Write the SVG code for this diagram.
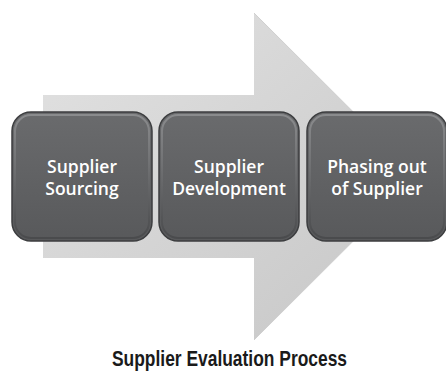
<svg xmlns="http://www.w3.org/2000/svg" width="446" height="371" viewBox="0 0 446 371">
  <defs>
    <linearGradient id="arrowFill" x1="0" y1="0" x2="1" y2="1">
      <stop offset="0" stop-color="#e2e2e2"/>
      <stop offset="1" stop-color="#c6c6c6"/>
    </linearGradient>
    <linearGradient id="boxFill" x1="0" y1="0" x2="0" y2="1">
      <stop offset="0" stop-color="#6a6b6d"/>
      <stop offset="1" stop-color="#58595b"/>
    </linearGradient>
    <linearGradient id="bevel" x1="0" y1="0" x2="0" y2="1">
      <stop offset="0" stop-color="#8a8b8d"/>
      <stop offset="1" stop-color="#4a4b4d"/>
    </linearGradient>
  </defs>
  <style>
    .box { fill: url(#boxFill); stroke: #3c3d3f; stroke-width: 1.5; }
    .inner { fill: none; stroke: url(#bevel); stroke-width: 2; }
    .label { font-family: "Open Sans", "Noto Sans", sans-serif; font-weight: 600; font-size: 17.5px; fill: #ffffff; text-anchor: middle; }
    .title { font-family: "Liberation Sans", Arial, sans-serif; font-weight: bold; font-size: 22px; fill: #1a1a1a; }
  </style>

  <!-- background arrow -->
  <g id="arrow">
    <path d="M43,95 H254 V13 L418,176.5 L254,340 V258 H43 Z" fill="url(#arrowFill)"/>
    <path d="M254,13 L418,176.5 L254,340" fill="none" stroke="#d0d0d0" stroke-width="1"/>
  </g>

  <g id="connectors"></g>

  <g id="node-sourcing">
    <rect class="box" x="12" y="112" width="140" height="129" rx="19"/>
    <rect class="inner" x="15" y="115" width="134" height="123" rx="16"/>
    <text class="label" x="82" y="173">Supplier</text>
    <text class="label" x="82" y="195">Sourcing</text>
  </g>

  <g id="node-development">
    <rect class="box" x="159" y="112" width="140" height="129" rx="19"/>
    <rect class="inner" x="162" y="115" width="134" height="123" rx="16"/>
    <text class="label" x="229" y="173">Supplier</text>
    <text class="label" x="229" y="195">Development</text>
  </g>

  <g id="node-phasing-out">
    <rect class="box" x="307" y="112" width="140" height="129" rx="19"/>
    <rect class="inner" x="310" y="115" width="134" height="123" rx="16"/>
    <text class="label" x="377" y="173">Phasing out</text>
    <text class="label" x="377" y="195">of Supplier</text>
  </g>

  <text class="title" x="112" y="366" textLength="235" lengthAdjust="spacingAndGlyphs">Supplier Evaluation Process</text>
</svg>
